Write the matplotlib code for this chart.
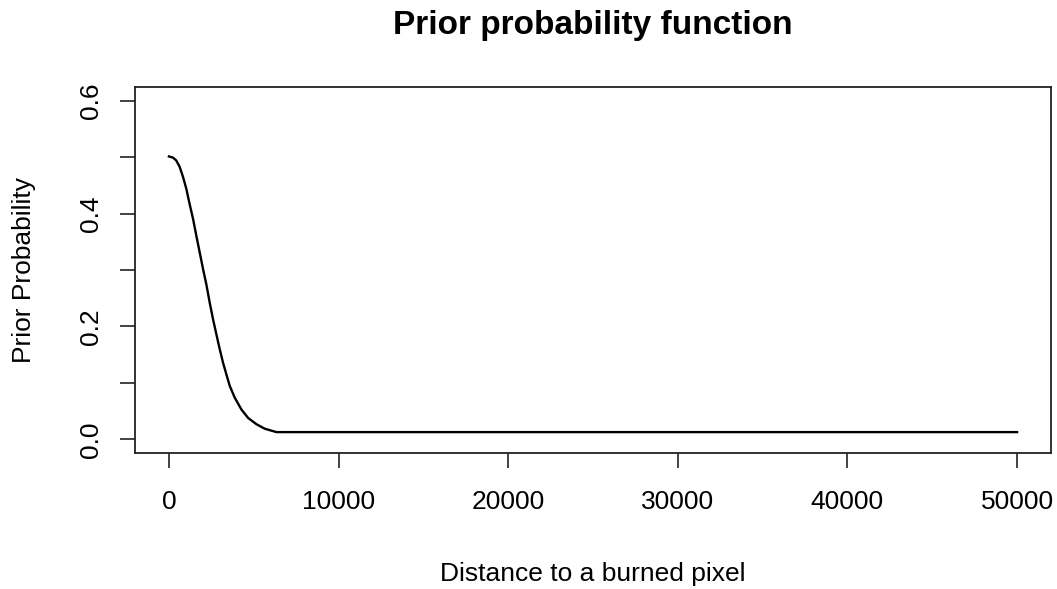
import matplotlib.pyplot as plt

plt.rcParams['font.family'] = ['Liberation Sans', 'DejaVu Sans']

# prior probability versus distance to the nearest burned pixel
distance = [0, 240, 430, 630, 830, 1025, 1220, 1420, 1615, 1810, 2010,
            2205, 2400, 2600, 2800, 2995, 3190, 3390, 3585, 3880, 4275,
            4670, 5160, 5650, 6340, 50000]
prior = [0.501, 0.499, 0.494, 0.483, 0.465, 0.444, 0.417, 0.391, 0.361,
         0.332, 0.302, 0.275, 0.243, 0.213, 0.186, 0.160, 0.136, 0.115,
         0.095, 0.074, 0.053, 0.038, 0.027, 0.019, 0.013, 0.013]

x_ticks = [0, 10000, 20000, 30000, 40000, 50000]
y_ticks = [0.0, 0.1, 0.2, 0.3, 0.4, 0.5, 0.6]
y_labels = ['0.0', '', '0.2', '', '0.4', '', '0.6']

fig = plt.figure(figsize=(10.57, 5.89), dpi=100)
ax = fig.add_axes([0.1277, 0.2309, 0.8666, 0.6214])

ax.plot(distance, prior, color='black', lw=1.7, solid_joinstyle='round')

# base-R style: 4% padding on each axis range
ax.set_xlim(-2000, 52000)
ax.set_ylim(-0.024, 0.624)

ax.set_xticks(x_ticks)
ax.set_xticklabels([str(t) for t in x_ticks])
ax.set_yticks(y_ticks)
ax.set_yticklabels(y_labels, rotation=90, va='center')

ax.tick_params(axis='both', direction='out', length=11, width=1.2,
               labelsize=19, color='#222222')
ax.tick_params(axis='x', pad=16)
ax.tick_params(axis='y', pad=12)

for s in ax.spines.values():
    s.set_linewidth(1.3)
    s.set_color('#222222')

ax.set_xlabel('Distance to a burned pixel', fontsize=19, labelpad=34)
ax.set_ylabel('Prior Probability', fontsize=19, labelpad=31)
ax.set_title('Prior probability function', fontsize=24, fontweight='bold',
             pad=38)

plt.savefig('out.png', dpi=100)
plt.close()
